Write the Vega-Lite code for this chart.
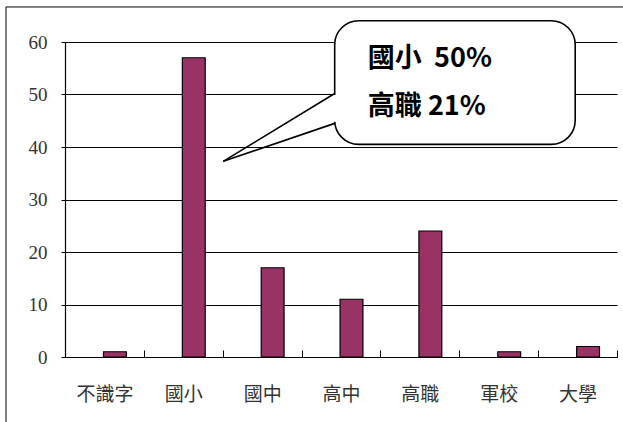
{
  "$schema": "https://vega.github.io/schema/vega-lite/v6.json",
  "width": 552,
  "height": 315,
  "autosize": {"type": "none"},
  "padding": {"left": 65, "top": 42, "right": 6, "bottom": 65},
  "background": "white",
  "config": {"view": {"stroke": null}},
  "resolve": {"scale": {"x": "independent"}},
  "layer": [
    {
      "data": {"values": [
        {"edu": "不識字", "count": 1},
        {"edu": "國小", "count": 57},
        {"edu": "國中", "count": 17},
        {"edu": "高中", "count": 11},
        {"edu": "高職", "count": 24},
        {"edu": "軍校", "count": 1},
        {"edu": "大學", "count": 2}
      ]},
      "mark": {"type": "bar", "fill": "#993366", "stroke": "#000000", "strokeWidth": 1.2, "width": {"band": 0.29}, "xOffset": 10.5},
      "encoding": {
        "x": {
          "field": "edu", "type": "nominal", "sort": null,
          "scale": {"paddingInner": 0, "paddingOuter": 0},
          "axis": {
            "title": null, "labelAngle": 0, "domainColor": "#000000", "domainWidth": 1.2,
            "tickBand": "extent", "tickSize": -7, "tickColor": "#000000", "tickWidth": 1,
            "labelFont": "Noto Sans CJK TC", "labelFontSize": 19, "labelColor": "#333333",
            "labelPadding": 35
          }
        },
        "y": {
          "field": "count", "type": "quantitative",
          "scale": {"domain": [0, 60], "nice": false},
          "axis": {
            "title": null, "values": [0, 10, 20, 30, 40, 50, 60],
            "grid": true, "gridColor": "#000000", "gridWidth": 1,
            "domainColor": "#000000", "domainWidth": 1.2,
            "tickSize": 4, "tickColor": "#000000",
            "labelFont": "Liberation Serif", "labelFontSize": 19, "labelColor": "#333333",
            "labelPadding": 14
          }
        }
      }
    },
    {
      "data": {"values": [{}]},
      "layer": [
        {
          "mark": {"type": "rect", "fill": "white", "stroke": "#000000", "strokeWidth": 1.6, "cornerRadius": 24},
          "encoding": {
            "x": {"datum": 3.42, "type": "quantitative", "scale": {"domain": [0, 7]}, "axis": null},
            "x2": {"datum": 6.47},
            "y": {"datum": 64.06, "type": "quantitative", "scale": {"domain": [0, 60], "nice": false}},
            "y2": {"datum": 40.5}
          }
        },
        {
          "mark": {"type": "rule", "stroke": "white", "strokeWidth": 4},
          "encoding": {
            "x": {"datum": 3.42, "type": "quantitative", "scale": {"domain": [0, 7]}, "axis": null},
            "y": {"datum": 49.9, "type": "quantitative", "scale": {"domain": [0, 60], "nice": false}},
            "y2": {"datum": 44.8}
          }
        },
        {
          "mark": {"type": "rule", "stroke": "#000000", "strokeWidth": 1.6},
          "encoding": {
            "x": {"datum": 3.42, "type": "quantitative", "scale": {"domain": [0, 7]}, "axis": null},
            "x2": {"datum": 2.007},
            "y": {"datum": 50.2, "type": "quantitative", "scale": {"domain": [0, 60], "nice": false}},
            "y2": {"datum": 37.27}
          }
        },
        {
          "mark": {"type": "rule", "stroke": "#000000", "strokeWidth": 1.6},
          "encoding": {
            "x": {"datum": 3.42, "type": "quantitative", "scale": {"domain": [0, 7]}, "axis": null},
            "x2": {"datum": 2.007},
            "y": {"datum": 44.5, "type": "quantitative", "scale": {"domain": [0, 60], "nice": false}},
            "y2": {"datum": 37.27}
          }
        },
        {
          "mark": {"type": "text", "align": "left", "baseline": "middle", "font": "Noto Sans CJK TC", "fontWeight": "bold", "fontSize": 27, "fill": "#000000"},
          "encoding": {
            "x": {"datum": 3.84, "type": "quantitative", "scale": {"domain": [0, 7]}, "axis": null},
            "y": {"datum": 56.7, "type": "quantitative", "scale": {"domain": [0, 60], "nice": false}},
            "text": {"value": "國小\u00a0\u00a050%"}
          }
        },
        {
          "mark": {"type": "text", "align": "left", "baseline": "middle", "font": "Noto Sans CJK TC", "fontWeight": "bold", "fontSize": 27, "fill": "#000000"},
          "encoding": {
            "x": {"datum": 3.84, "type": "quantitative", "scale": {"domain": [0, 7]}, "axis": null},
            "y": {"datum": 47.6, "type": "quantitative", "scale": {"domain": [0, 60], "nice": false}},
            "text": {"value": "高職\u00a021%"}
          }
        },
        {
          "mark": {"type": "rect", "fill": null, "fillOpacity": 0, "stroke": "#000000", "strokeWidth": 1},
          "encoding": {
            "x": {"datum": -0.748, "type": "quantitative", "scale": {"domain": [0, 7]}, "axis": null},
            "x2": {"datum": 7.4},
            "y": {"datum": 66.67, "type": "quantitative", "scale": {"domain": [0, 60], "nice": false}},
            "y2": {"datum": -15}
          }
        }
      ]
    }
  ]
}
